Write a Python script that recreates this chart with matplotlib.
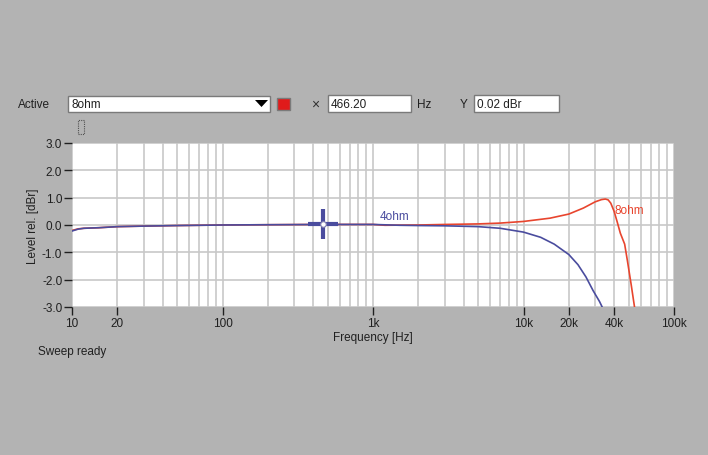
import matplotlib.pyplot as plt
from matplotlib.patches import Rectangle, Polygon
from matplotlib.ticker import FixedLocator, NullFormatter

plt.rcParams['font.family'] = ['Liberation Sans', 'DejaVu Sans']

# measured response, 4 ohm load
freq_4ohm = [10, 11, 12, 15, 20, 30, 50, 100, 200, 466, 1000, 1500, 2000, 3000,
             5000, 7000, 10000, 13000, 16000, 20000, 23000, 26000, 29000, 32000, 34000]
level_4ohm = [-0.22, -0.15, -0.12, -0.1, -0.06, -0.04, -0.02, 0.0, 0.01, 0.02, 0.02, -0.01,
              -0.02, -0.03, -0.06, -0.12, -0.26, -0.45, -0.7, -1.08, -1.45, -1.9, -2.4, -2.8, -3.1]

# measured response, 8 ohm load
freq_8ohm = [10, 11, 12, 15, 20, 30, 50, 100, 200, 466, 1000, 1200, 2000, 3000, 5000, 7000,
             10000, 15000, 20000, 25000, 30000, 33000, 35000, 36500, 38000, 40000, 42000,
             44000, 47000, 49000, 52000, 55000]
level_8ohm = [-0.2, -0.14, -0.12, -0.1, -0.06, -0.04, -0.02, 0.0, 0.01, 0.02, 0.02, -0.01,
              0.0, 0.02, 0.04, 0.07, 0.13, 0.25, 0.4, 0.62, 0.85, 0.93, 0.95, 0.92, 0.8,
              0.5, 0.1, -0.3, -0.7, -1.3, -2.2, -3.1]

cursor_x = 466.20
cursor_y = 0.02

xtick_vals = [10, 20, 100, 1000, 10000, 20000, 40000, 100000]
xtick_labels = ['10', '20', '100', '1k', '10k', '20k', '40k', '100k']
ytick_vals = [3, 2, 1, 0, -1, -2, -3]
ytick_labels = ['3.0', '2.0', '1.0', '0.0', '-1.0', '-2.0', '-3.0']

W, H = 708, 456
bg = '#b3b3b3'
blue = '#4a4c9e'
red = '#e8452e'

fig = plt.figure(figsize=(W / 100, H / 100), dpi=100, facecolor=bg)


def fx(x):
    return x / W


def fy(y):
    return 1 - y / H


ax = fig.add_axes([fx(72), fy(308), fx(674) - fx(72), fy(144) - fy(308)])
ax.set_facecolor('white')
ax.set_xscale('log')
ax.set_xlim(10, 100000)
ax.set_ylim(-3, 3)

# grid: every log subdivision vertically, each dB horizontally
grid_x = [m * 10 ** d for d in range(1, 5) for m in range(1, 10)] + [100000]
for g in grid_x:
    ax.axvline(g, color='#c8c8c8', lw=1.2, zorder=0)
ax.grid(True, which='major', axis='y', color='#c8c8c8', lw=1.2)
ax.xaxis.set_minor_locator(FixedLocator([]))
ax.xaxis.set_minor_formatter(NullFormatter())
ax.set_axisbelow(True)

ax.plot(freq_8ohm, level_8ohm, color=red, lw=1.2)
ax.plot(freq_4ohm, level_4ohm, color=blue, lw=1.2)
ax.plot([cursor_x], [cursor_y], marker='+', ms=21, mew=3, color=blue, ls='none')
ax.plot([cursor_x], [cursor_y], marker='o', ms=4, mfc='white', mec='#8080b0', mew=0.8, ls='none')

ax.text(1100, 0.12, '4ohm', color=blue, fontsize=8.5, va='bottom')
ax.text(40000, 0.55, '8ohm', color=red, fontsize=8.5, va='center')

ax.set_xticks(xtick_vals)
ax.set_xticklabels(xtick_labels)
ax.set_yticks(ytick_vals)
ax.set_yticklabels(ytick_labels)
ax.tick_params(axis='both', which='major', length=6, width=1, color='#202020',
               labelsize=8.5, labelcolor='#202020', pad=1)
for s in ax.spines.values():
    s.set_visible(False)

ax.set_xlabel('Frequency [Hz]', fontsize=8.5, color='#202020', labelpad=2)
ax.set_ylabel('Level rel. [dBr]', fontsize=8.5, color='#202020', labelpad=2)

# header widgets
def box(x0, y0, x1, y1, fc='white'):
    fig.patches.append(Rectangle((fx(x0), fy(y1)), fx(x1) - fx(x0), fy(y0) - fy(y1),
                                 transform=fig.transFigure, facecolor=fc,
                                 edgecolor='#7a7a7a', lw=1))

fig.text(fx(18), fy(105), 'Active', fontsize=8.5, color='#202020', va='center')
box(68, 97, 270, 113)
fig.text(fx(71), fy(105), '8ohm', fontsize=8.5, color='#202020', va='center')
fig.patches.append(Polygon([(fx(255), fy(101)), (fx(268), fy(101)), (fx(261.5), fy(108))],
                           closed=True, transform=fig.transFigure, facecolor='black'))
box(277, 99, 290, 111, fc='#e01b1b')
fig.text(fx(311), fy(105), '×', fontsize=10, color='#303030', va='center')
box(328, 96, 411, 113)
fig.text(fx(331), fy(105), '466.20', fontsize=8.5, color='#202020', va='center')
fig.text(fx(417), fy(105), 'Hz', fontsize=8.5, color='#202020', va='center')
fig.text(fx(460), fy(105), 'Y', fontsize=8.5, color='#202020', va='center')
box(474, 96, 559, 113)
fig.text(fx(477), fy(105), '0.02 dBr', fontsize=8.5, color='#202020', va='center')

fig.patches.append(Rectangle((fx(78), fy(135)), fx(6), fy(121) - fy(135),
                             transform=fig.transFigure, facecolor='none',
                             edgecolor='#505050', lw=0.8, ls=(0, (1, 1))))

fig.text(fx(38), fy(352), 'Sweep ready', fontsize=8.5, color='#202020', va='center')

fig.savefig('out.png', dpi=100, facecolor=bg)
